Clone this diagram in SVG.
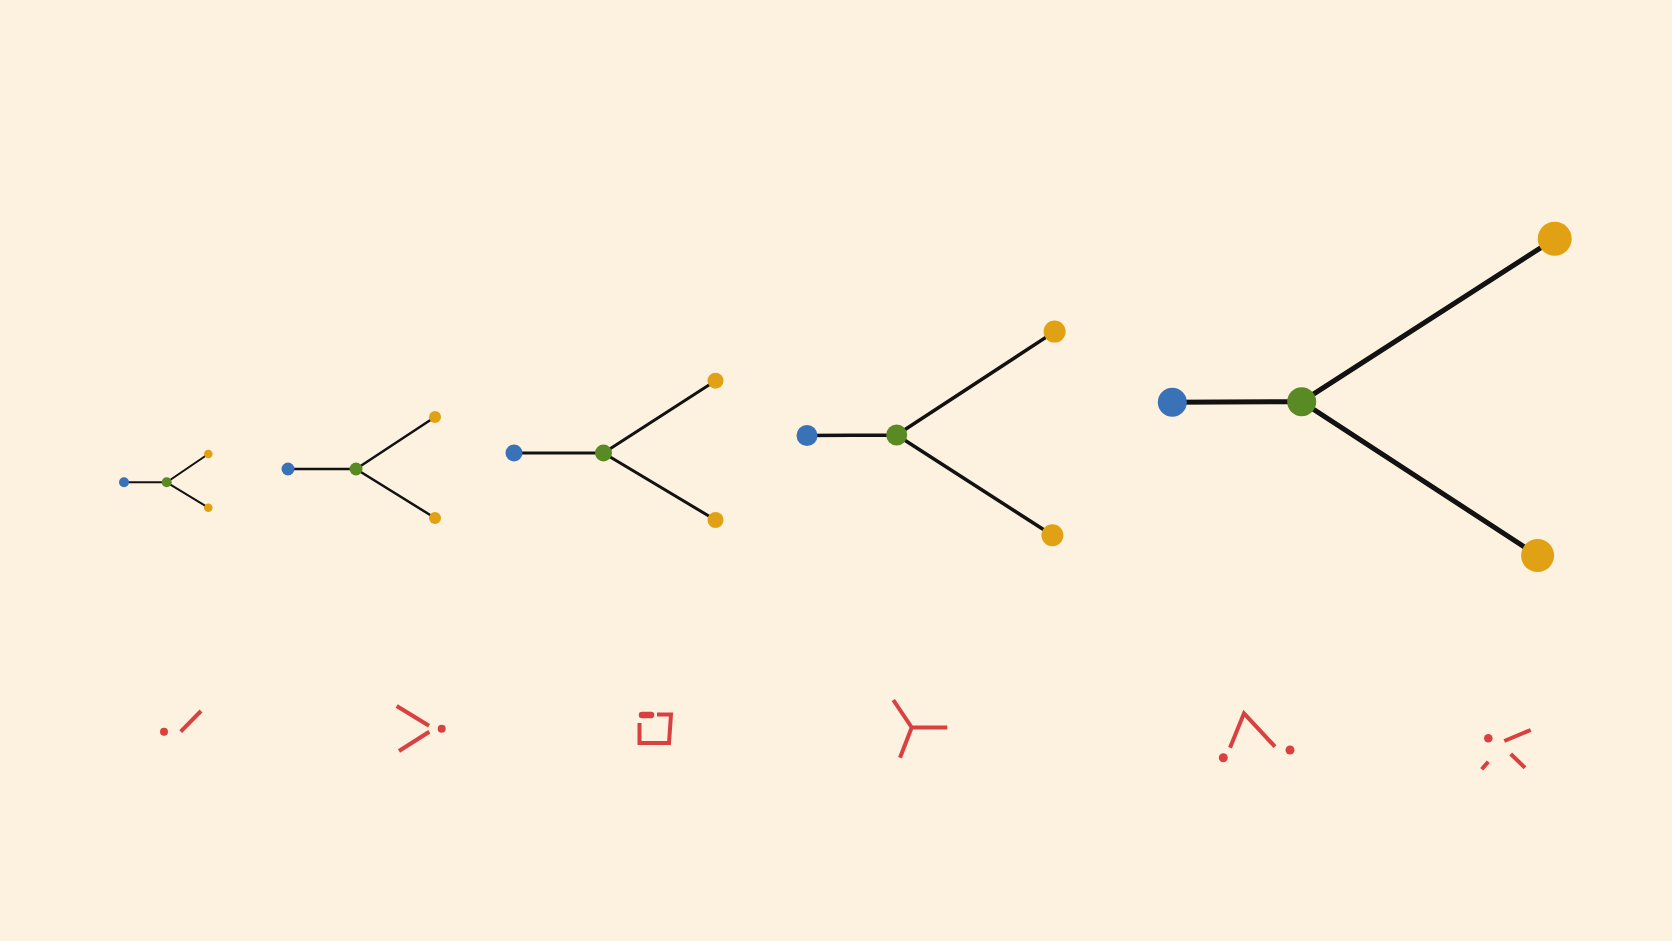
<svg xmlns="http://www.w3.org/2000/svg" width="1672" height="941" viewBox="0 0 1672 941">
<style>
.e{stroke:#121212;stroke-linecap:round;fill:none}
.b{fill:#3a72b8}
.g{fill:#5a8a24}
.o{fill:#e0a114}
.r{stroke:#d94141;stroke-width:4;fill:none;stroke-linecap:butt}
.rd{fill:#d94141}
</style>
<rect width="1672" height="941" fill="#fdf1df"/>
<g id="connectors">
<g stroke-width="2" class="e"><path d="M124,482.3H166.7L208.3,454M166.7,482.3L208.3,507.7"/></g>
<g stroke-width="2.5" class="e"><path d="M288,469H356L435,417M356,469L435,518"/></g>
<g stroke-width="3" class="e"><path d="M514,453H603.5L715.5,380.7M603.5,453L715.5,520"/></g>
<g stroke-width="3.5" class="e"><path d="M807,435.5L896.7,435L1054.6,331.6M896.7,435L1052.4,535.3"/></g>
<g stroke-width="5" class="e"><path d="M1172.3,402.3L1301.7,401.7L1554.7,238.8M1301.7,401.7L1537.6,555.5"/></g>
</g>
<g id="graph1">
<circle class="b" cx="124" cy="482.3" r="5"/>
<circle class="g" cx="166.7" cy="482.3" r="5"/>
<circle class="o" cx="208.3" cy="454" r="4.3"/>
<circle class="o" cx="208.3" cy="507.7" r="4.3"/>
</g>
<g id="graph2">
<circle class="b" cx="288" cy="469" r="6.5"/>
<circle class="g" cx="356" cy="469" r="6.5"/>
<circle class="o" cx="435" cy="417" r="6"/>
<circle class="o" cx="435" cy="518" r="6"/>
</g>
<g id="graph3">
<circle class="b" cx="514" cy="453" r="8.5"/>
<circle class="g" cx="603.5" cy="453" r="8.5"/>
<circle class="o" cx="715.5" cy="380.7" r="8"/>
<circle class="o" cx="715.5" cy="520" r="8"/>
</g>
<g id="graph4">
<circle class="b" cx="807" cy="435.5" r="10.5"/>
<circle class="g" cx="896.7" cy="435" r="10.5"/>
<circle class="o" cx="1054.6" cy="331.6" r="11"/>
<circle class="o" cx="1052.4" cy="535.3" r="11"/>
</g>
<g id="graph5">
<circle class="b" cx="1172.3" cy="402.3" r="14.5"/>
<circle class="g" cx="1301.7" cy="401.7" r="14.5"/>
<circle class="o" cx="1554.7" cy="238.8" r="17"/>
<circle class="o" cx="1537.6" cy="555.5" r="16.5"/>
</g>
<g id="glyph1">
<circle class="rd" cx="164" cy="731.7" r="4"/>
<path class="r" d="M180.7,731.7L201,711"/>
</g>
<g id="glyph2">
<path class="r" d="M396.7,706L429,725.7M399,751L429.3,731.7"/>
<circle class="rd" cx="441.7" cy="728.7" r="4"/>
</g>
<g id="glyph3">
<path d="M642,715H651" stroke="#d94141" stroke-width="6.5" stroke-linecap="round" fill="none"/>
<path class="r" d="M639.5,723V743H669L671,714.5H657"/>
</g>
<g id="glyph4">
<path class="r" d="M893.3,700L911.7,727.5L900,757.7M911.7,727.5H947.3"/>
</g>
<g id="glyph5">
<path class="r" d="M1230,747.7L1244,713.3L1275,746.7"/>
<circle class="rd" cx="1223.3" cy="757.7" r="4.5"/>
<circle class="rd" cx="1290" cy="750" r="4.5"/>
</g>
<g id="glyph6">
<circle class="rd" cx="1488.3" cy="738.3" r="4.3"/>
<path class="r" d="M1504.3,741L1530.7,730M1510.7,754L1525,767.7M1481.7,769.3L1488.3,761.7"/>
</g>
</svg>
